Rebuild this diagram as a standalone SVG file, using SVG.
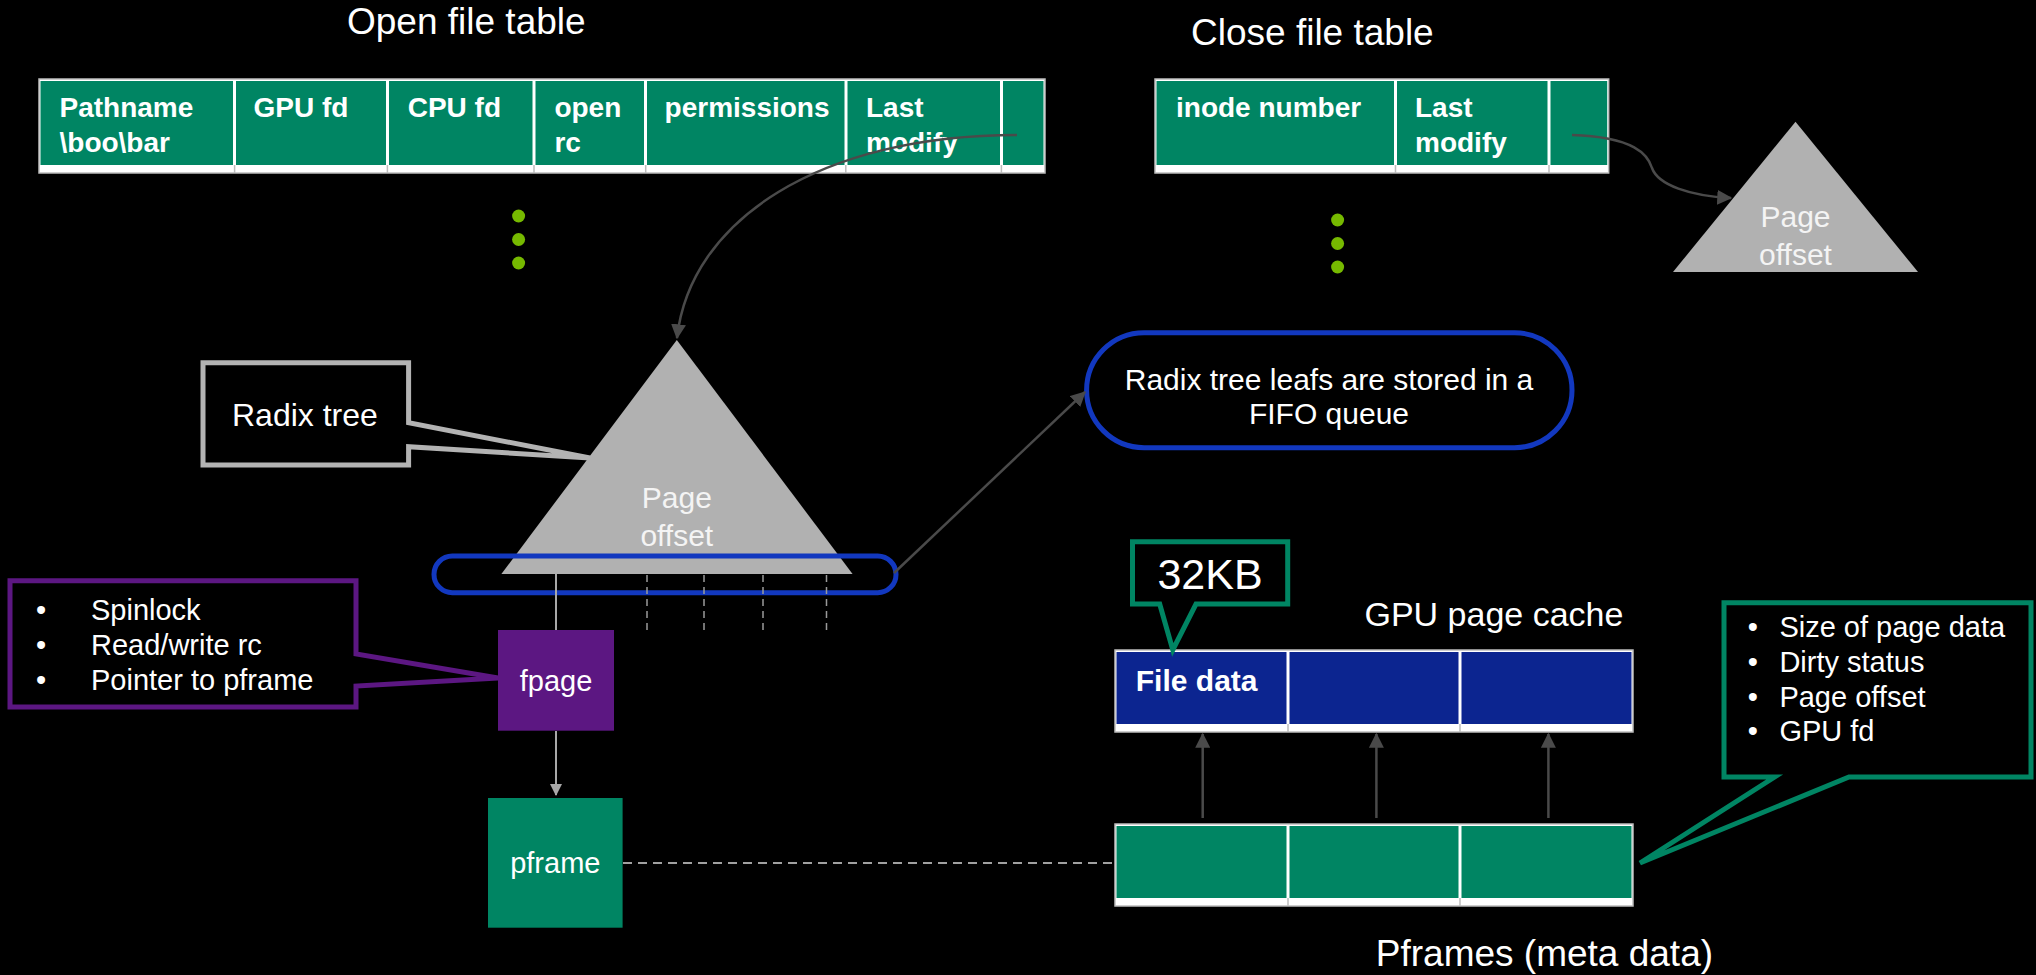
<svg xmlns="http://www.w3.org/2000/svg" width="2036" height="975" viewBox="0 0 2036 975">
  <defs>
    <style>
      text { font-family: "Liberation Sans", Arial, sans-serif; fill: #ffffff; }
      .title { font-size: 37px; }
      .cell { font-size: 28px; font-weight: bold; }
      .body { font-size: 29px; }
      .tri { font-size: 30px; fill: #f4f4f4; text-anchor: middle; }
      .tframe { fill: #ffffff; stroke: #bdbdbd; stroke-width: 1.5; }
      .green { fill: #008563; }
      .blue { fill: #0c2590; }
      .strip { stroke: #bdbdbd; stroke-width: 1.5; }
      .dot { fill: #76b900; }
      .conn { fill: none; stroke: #4a4a4a; stroke-width: 2.5; }
      .light { fill: none; stroke: #a8a8a8; stroke-width: 2; }
      .vdash { fill: none; stroke: #9a9a9a; stroke-width: 1.5; stroke-dasharray: 7 5; }
      .hdash { fill: none; stroke: #a0a0a0; stroke-width: 2; stroke-dasharray: 9 6; }
      .bluering { fill: none; stroke: #1238bf; stroke-width: 5; }
    </style>
    <marker id="arrDark" viewBox="0 0 12 12" refX="11" refY="6" markerWidth="6" markerHeight="6" orient="auto" markerUnits="strokeWidth">
      <path d="M0,0 L12,6 L0,12 Z" fill="#4a4a4a"/>
    </marker>
    <marker id="arrLight" viewBox="0 0 12 12" refX="11" refY="6" markerWidth="7" markerHeight="6" orient="auto" markerUnits="strokeWidth">
      <path d="M0,0 L12,6 L0,12 Z" fill="#a8a8a8"/>
    </marker>
  </defs>

  <rect x="0" y="0" width="2036" height="975" fill="#000000"/>

  <!-- Open file table -->
  <g id="open-file-table">
    <text class="title" x="347" y="34">Open file table</text>
    <rect class="tframe" x="39" y="79" width="1006" height="94"/>
    <rect class="green" x="40.5" y="81" width="192.5" height="84"/>
    <rect class="green" x="236" y="81" width="150" height="84"/>
    <rect class="green" x="389" y="81" width="143.5" height="84"/>
    <rect class="green" x="535.5" y="81" width="108.5" height="84"/>
    <rect class="green" x="647" y="81" width="197.5" height="84"/>
    <rect class="green" x="847.5" y="81" width="152.5" height="84"/>
    <rect class="green" x="1003" y="81" width="40.5" height="84"/>
    <path class="strip" d="M234.6,165 V173 M387.4,165 V173 M534,165 V173 M645.7,165 V173 M845.8,165 V173 M1001.4,165 V173"/>
    <text class="cell" x="59.5" y="117">Pathname</text>
    <text class="cell" x="59.5" y="152">\boo\bar</text>
    <text class="cell" x="253.5" y="117">GPU fd</text>
    <text class="cell" x="407.7" y="117">CPU fd</text>
    <text class="cell" x="554.4" y="117">open</text>
    <text class="cell" x="554.4" y="152">rc</text>
    <text class="cell" x="664.6" y="117">permissions</text>
    <text class="cell" x="866" y="117">Last</text>
    <text class="cell" x="866" y="152">modify</text>
    <circle class="dot" cx="518.6" cy="216" r="6.5"/>
    <circle class="dot" cx="518.6" cy="239.5" r="6.5"/>
    <circle class="dot" cx="518.6" cy="263" r="6.5"/>
  </g>

  <!-- Close file table -->
  <g id="close-file-table">
    <text class="title" x="1191" y="45">Close file table</text>
    <rect class="tframe" x="1155" y="79" width="453.7" height="94"/>
    <rect class="green" x="1156.5" y="81" width="237.5" height="84"/>
    <rect class="green" x="1397" y="81" width="150.5" height="84"/>
    <rect class="green" x="1550.5" y="81" width="56.7" height="84"/>
    <path class="strip" d="M1395.5,165 V173 M1549,165 V173"/>
    <text class="cell" x="1176" y="117">inode number</text>
    <text class="cell" x="1415" y="117">Last</text>
    <text class="cell" x="1415" y="152">modify</text>
    <circle class="dot" cx="1337.6" cy="220" r="6.5"/>
    <circle class="dot" cx="1337.6" cy="243.5" r="6.5"/>
    <circle class="dot" cx="1337.6" cy="267" r="6.5"/>
  </g>

  <!-- Page offset tree of the closed file -->
  <g id="close-page-offset">
    <polygon points="1795.5,121.7 1918,272 1673,272" fill="#b1b1b1"/>
    <text class="tri" x="1795.5" y="227">Page</text>
    <text class="tri" x="1795.5" y="265">offset</text>
  </g>

  <!-- Radix tree (page offset) of the open file -->
  <g id="radix-tree">
    <polygon points="676.8,340 852.6,574 501.4,574" fill="#b1b1b1"/>
    <text class="tri" x="676.8" y="508">Page</text>
    <text class="tri" x="676.8" y="546">offset</text>
  </g>

  <g id="radix-tree-callout">
    <path d="M203,362.7 H408.6 V422.7 L590,458 L408.6,446.7 V465 H203 Z" fill="#000000" stroke="#b3b3b3" stroke-width="5" stroke-linejoin="miter"/>
    <text x="232" y="426" style="font-size:32px">Radix tree</text>
  </g>

  <!-- Leaf ring around the tree base -->
  <g id="leaf-ring">
    <rect class="bluering" x="434" y="556" width="462" height="36.7" rx="18.3"/>
  </g>

  <g id="fifo-note">
    <rect class="bluering" x="1086.6" y="332.7" width="485.4" height="115" rx="57.5"/>
    <text class="body" x="1329" y="390" text-anchor="middle" style="font-size:30px">Radix tree leafs are stored in a</text>
    <text class="body" x="1329" y="424" text-anchor="middle" style="font-size:30px">FIFO queue</text>
  </g>

  <!-- fpage and its fields -->
  <g id="fpage">
    <rect x="498" y="630" width="116" height="100.7" fill="#5c1782"/>
    <text class="body" x="556" y="691" text-anchor="middle">fpage</text>
  </g>

  <g id="fpage-callout">
    <path d="M10,580.7 H356 V654 L498,678 L356,686 V707 H10 Z" fill="#000000" stroke="#5c1782" stroke-width="5"/>
    <text class="body" x="36" y="620">•</text>
    <text class="body" x="91" y="620">Spinlock</text>
    <text class="body" x="36" y="655">•</text>
    <text class="body" x="91" y="655">Read/write rc</text>
    <text class="body" x="36" y="690">•</text>
    <text class="body" x="91" y="690">Pointer to pframe</text>
  </g>

  <g id="pframe">
    <rect x="488" y="798" width="134.6" height="129.7" fill="#008563"/>
    <text class="body" x="555.3" y="873" text-anchor="middle">pframe</text>
  </g>

  <!-- GPU page cache -->
  <g id="gpu-page-cache">
    <text x="1364.5" y="626" style="font-size:34px">GPU page cache</text>
    <rect class="tframe" x="1115" y="650" width="518" height="82"/>
    <rect class="blue" x="1116.5" y="652" width="170" height="72"/>
    <rect class="blue" x="1289.5" y="652" width="169" height="72"/>
    <rect class="blue" x="1461.5" y="652" width="170" height="72"/>
    <path class="strip" d="M1288,724 V732 M1460,724 V732"/>
    <text class="cell" x="1135.8" y="691" style="font-size:30px">File data</text>
  </g>

  <g id="size-callout">
    <path d="M1132.5,541.7 H1287.7 V604 H1196 L1172.8,650 L1159.7,604 H1132.5 Z" fill="#000000" stroke="#008563" stroke-width="5"/>
    <text x="1210" y="589" text-anchor="middle" style="font-size:43px">32KB</text>
  </g>

  <!-- Pframes -->
  <g id="pframes">
    <rect class="tframe" x="1115" y="824" width="518" height="82"/>
    <rect class="green" x="1116.5" y="826" width="170" height="72"/>
    <rect class="green" x="1289.5" y="826" width="169" height="72"/>
    <rect class="green" x="1461.5" y="826" width="170" height="72"/>
    <path class="strip" d="M1288,898 V906 M1460,898 V906"/>
    <text x="1375.8" y="966" style="font-size:37px">Pframes (meta data)</text>
  </g>

  <g id="pframe-callout">
    <path d="M1724,602.7 H2031 V777 H1849 L1640,863 L1774.6,777 H1724 Z" fill="#000000" stroke="#008563" stroke-width="5"/>
    <text class="body" x="1747.8" y="636.7">•</text>
    <text class="body" x="1779.4" y="636.7">Size of page data</text>
    <text class="body" x="1747.8" y="671.7">•</text>
    <text class="body" x="1779.4" y="671.7">Dirty status</text>
    <text class="body" x="1747.8" y="706.7">•</text>
    <text class="body" x="1779.4" y="706.7">Page offset</text>
    <text class="body" x="1747.8" y="741">•</text>
    <text class="body" x="1779.4" y="741">GPU fd</text>
  </g>

  <!-- Connectors -->
  <g id="connectors">
    <path class="conn" d="M1017,135 C820,135 690,220 677,338" marker-end="url(#arrDark)"/>
    <path class="conn" d="M1572,135 C1635,137 1648,155 1652,168 C1658,185 1690,196 1731,198" marker-end="url(#arrDark)"/>
    <path class="conn" d="M894,573 L1085,392" stroke-width="2" marker-end="url(#arrDark)"/>
    <path class="light" d="M556,574 V630" stroke="#c8c8c8" stroke-width="1.5"/>
    <path class="vdash" d="M647,575 V630 M704,575 V630 M763,575 V630 M826.5,575 V630"/>
    <path class="light" d="M556,731 V795" marker-end="url(#arrLight)"/>
    <path class="hdash" d="M623,863 H1115"/>
    <path class="conn" d="M1202.7,818 V734" marker-end="url(#arrDark)"/>
    <path class="conn" d="M1376.4,818 V734" marker-end="url(#arrDark)"/>
    <path class="conn" d="M1548.4,818 V734" marker-end="url(#arrDark)"/>
  </g>
</svg>
